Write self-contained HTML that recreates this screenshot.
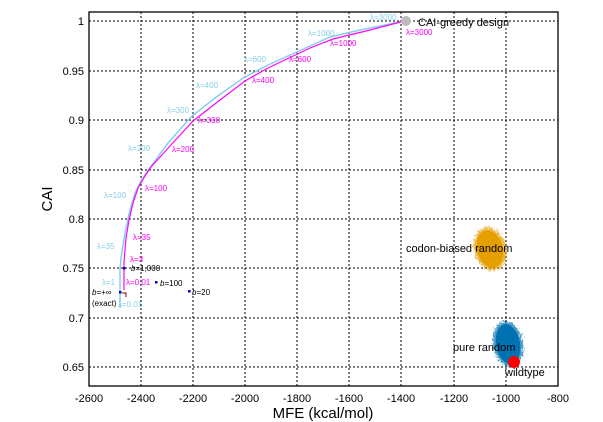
<!DOCTYPE html>
<html><head><meta charset="utf-8"><style>
html,body{margin:0;padding:0;background:#fff;}
svg{display:block;font-family:"Liberation Sans",sans-serif;}
</style></head><body>
<svg width="603" height="422" viewBox="0 0 603 422" xmlns="http://www.w3.org/2000/svg">
<defs>
<filter id="rough" x="-50%" y="-50%" width="200%" height="200%">
<feTurbulence type="fractalNoise" baseFrequency="0.6" numOctaves="2" seed="3" result="t"/>
<feDisplacementMap in="SourceGraphic" in2="t" scale="9" xChannelSelector="R" yChannelSelector="G"/>
</filter>
</defs>
<rect width="603" height="422" fill="#fff"/>
<g stroke="#000" stroke-width="1" stroke-dasharray="2,2">
<line x1="141" y1="12" x2="141" y2="386"/><line x1="193" y1="12" x2="193" y2="386"/>
<line x1="245" y1="12" x2="245" y2="386"/><line x1="297" y1="12" x2="297" y2="386"/>
<line x1="349" y1="12" x2="349" y2="386"/><line x1="401" y1="12" x2="401" y2="386"/>
<line x1="454" y1="12" x2="454" y2="386"/><line x1="506" y1="12" x2="506" y2="386"/>
<line x1="89" y1="21" x2="558" y2="21"/><line x1="89" y1="71" x2="558" y2="71"/>
<line x1="89" y1="120" x2="558" y2="120"/><line x1="89" y1="170" x2="558" y2="170"/>
<line x1="89" y1="219" x2="558" y2="219"/><line x1="89" y1="268" x2="558" y2="268"/>
<line x1="89" y1="318" x2="558" y2="318"/><line x1="89" y1="367" x2="558" y2="367"/>
</g>
<g fill="#e69f00">
<ellipse cx="490" cy="249" rx="16" ry="22" transform="rotate(-15 490 249)" filter="url(#rough)" opacity="0.7"/>
<ellipse cx="490" cy="249" rx="13" ry="19" transform="rotate(-15 490 249)"/>
</g>
<g fill="#0072b2">
<ellipse cx="508" cy="344" rx="15" ry="23" transform="rotate(-10 508 344)" filter="url(#rough)" opacity="0.7"/>
<ellipse cx="508" cy="344" rx="12" ry="20" transform="rotate(-10 508 344)"/>
</g>
<polyline fill="none" stroke="#87ceeb" stroke-width="1.5" points="120,308 120,270 121,258 123,245 126,228 130,210 135,193 141,181 149,169 168,143 191,117 215,98 243,78 268,65 288,56 310,46 330,37 360,30 404,21"/>
<polyline fill="none" stroke="#ff00ff" stroke-width="1.2" points="124,290 124,282 124,262 126,238 129,220 133,203 138,188 145,176 151,167 170,146 193,121 220,100 245,81 268,68 289,58 310,48 333,39 370,30 404,21"/>
<circle cx="406" cy="21" r="5" fill="#bbb"/>
<circle cx="514" cy="362" r="6" fill="#f00"/>
<g fill="#00c">
<rect x="123" y="267" width="2.5" height="2.5"/><rect x="155" y="281" width="2.5" height="2.5"/>
<rect x="188" y="290" width="2.5" height="2.5"/><rect x="119" y="291" width="2.5" height="2.5"/>
</g>
<polyline fill="none" stroke="#800" stroke-width="1" points="122,293 126,293 126,297"/>
<rect x="89" y="12" width="469" height="374" fill="none" stroke="#000" stroke-width="1.3"/>
<g font-size="8" fill="#87ceeb">
<text x="370" y="20">λ=3000</text><text x="308" y="36">λ=1000</text><text x="244" y="62">λ=600</text>
<text x="196" y="88">λ=400</text><text x="167" y="113">λ=300</text><text x="128" y="151">λ=200</text>
<text x="104" y="198">λ=100</text><text x="97" y="249">λ=35</text><text x="102" y="285">λ=1</text>
<text x="118" y="307">λ=0.01</text>
</g>
<g font-size="8" fill="#ff00ff">
<text x="406" y="35">λ=3000</text><text x="330" y="46">λ=1000</text><text x="289" y="62">λ=600</text>
<text x="252" y="83">λ=400</text><text x="198" y="123">λ=300</text><text x="172" y="152">λ=200</text>
<text x="145" y="191">λ=100</text><text x="133" y="240">λ=35</text><text x="130" y="262">λ=3</text>
<text x="126" y="285">λ=0.01</text>
</g>
<g font-size="8" fill="#000">
<text x="131" y="271"><tspan font-style="italic">b</tspan>=1,000</text>
<text x="160" y="286"><tspan font-style="italic">b</tspan>=100</text>
<text x="192" y="295"><tspan font-style="italic">b</tspan>=20</text>
<text x="92" y="295"><tspan font-style="italic">b</tspan>=+∞</text>
<text x="92" y="306">(exact)</text>
</g>
<g font-size="11" fill="#000">
<text x="418" y="26">CAI-greedy design</text>
<text x="406" y="252">codon-biased random</text>
<text x="453" y="351">pure random</text>
<text x="505" y="376">wildtype</text>
</g>
<g font-size="11" fill="#000" text-anchor="end">
<text x="84" y="25">1</text><text x="84" y="75">0.95</text><text x="84" y="124">0.9</text>
<text x="84" y="174">0.85</text><text x="84" y="223">0.8</text><text x="84" y="272">0.75</text>
<text x="84" y="322">0.7</text><text x="84" y="371">0.65</text>
</g>
<g font-size="11" fill="#000" text-anchor="middle">
<text x="89" y="402">-2600</text><text x="141" y="402">-2400</text><text x="193" y="402">-2200</text>
<text x="245" y="402">-2000</text><text x="297" y="402">-1800</text><text x="349" y="402">-1600</text>
<text x="401" y="402">-1400</text><text x="454" y="402">-1200</text><text x="506" y="402">-1000</text>
<text x="558" y="402">-800</text>
<text x="323" y="418" font-size="15">MFE (kcal/mol)</text>
<text x="52" y="199" font-size="15" transform="rotate(-90 52 199)">CAI</text>
</g>
</svg>
</body></html>
